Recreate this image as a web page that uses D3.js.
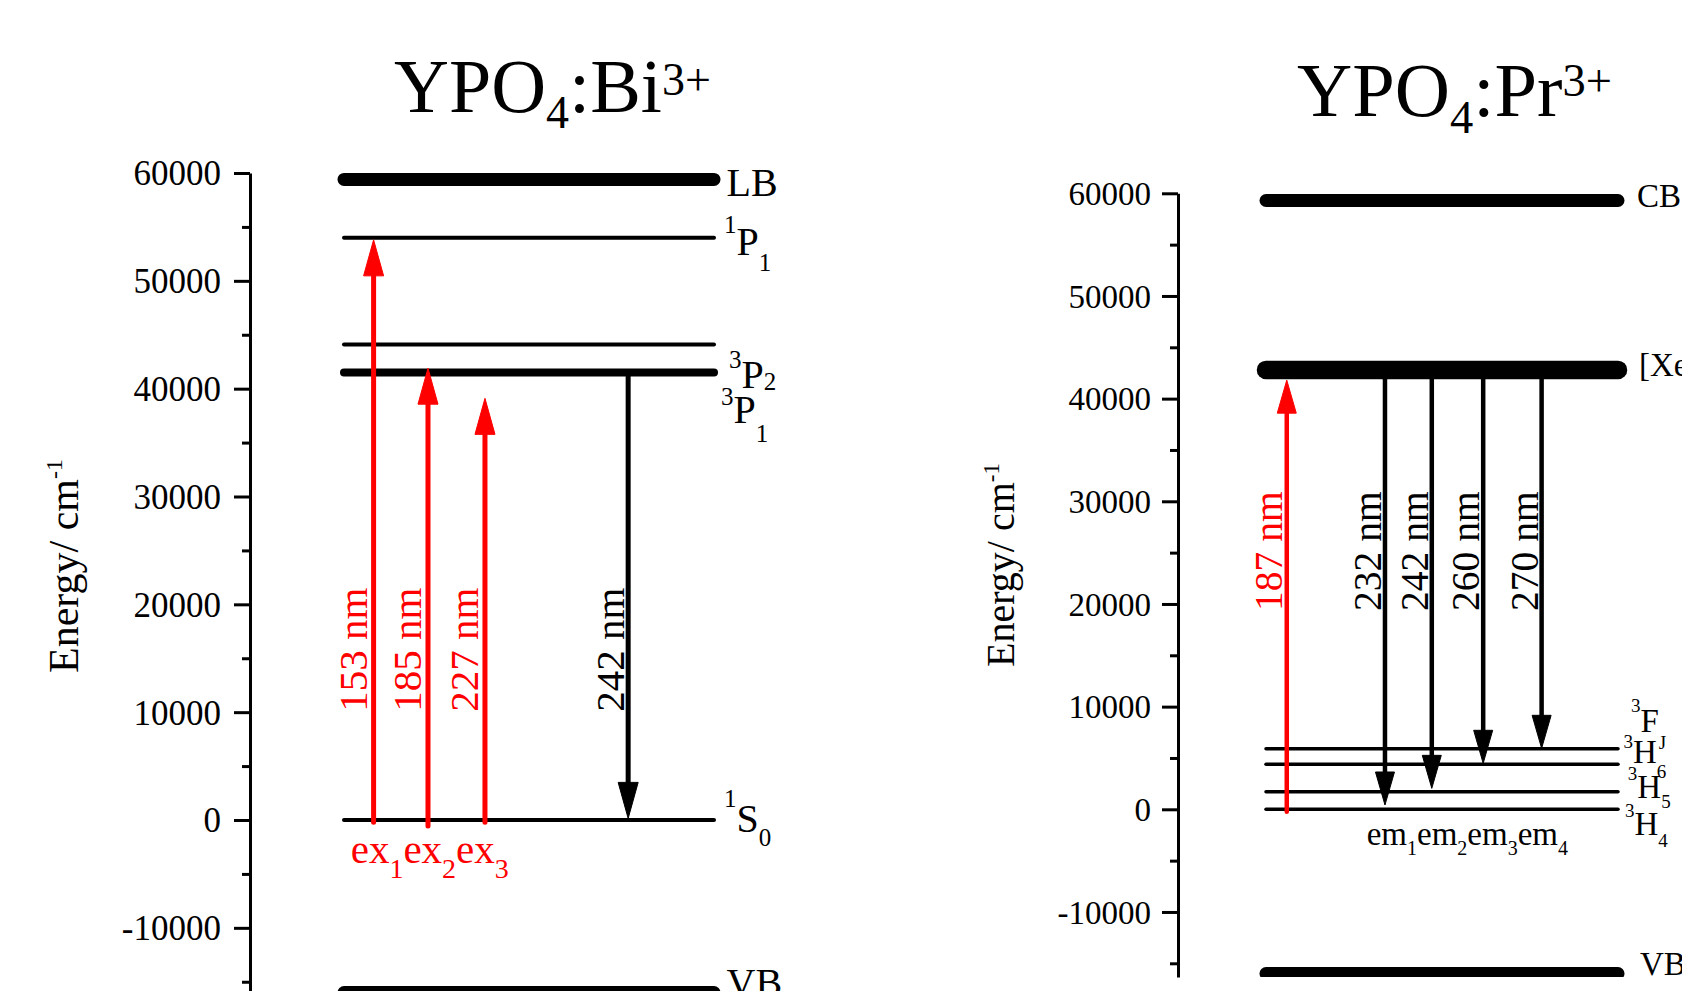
<!DOCTYPE html>
<html>
<head>
<meta charset="utf-8">
<script src="https://cdn.jsdelivr.net/npm/d3@7"></script>
<style>
    body { margin: 0; background: #fff; }
    svg { display: block; font-family: 'Liberation Serif', 'Times New Roman', serif; }
</style>
</head>
<body>
<svg id="chart" width="1682" height="991"></svg>
<script>
'use strict';

// energy axis (cm^-1)
const energyTicks = [-10000, 0, 10000, 20000, 30000, 40000, 50000, 60000];
const energyMinorTicks = [-15000, -5000, 5000, 15000, 25000, 35000, 45000, 55000];

// YPO4:Bi3+ levels and transitions
const biLevelNames = ['LB', '1P1', '3P2', '3P1', '1S0', 'VB'];
const biLevelEnergy = [59400, 54000, 44100, 41500, 0, -16000];
const biLines = ['153 nm', '185 nm', '227 nm', '242 nm'];
const biLineKind = ['ex', 'ex', 'ex', 'em'];
const biLineSlot = [8, 22.7, 38.1, 76.8];
const biLineFrom = [-200, -550, -200, 41500];
const biLineTo = [53800, 41900, 39100, 150];

// YPO4:Pr3+ levels and transitions
const prLevelNames = ['CB', '4f5d', '3FJ', '3H6', '3H5', '3H4', 'VB'];
const prLevelEnergy = [59300, 42800, 5900, 4400, 1700, 0, -16000];
const prLines = ['187 nm', '232 nm', '242 nm', '260 nm', '270 nm'];
const prLineKind = ['ex', 'em', 'em', 'em', 'em'];
const prLineSlot = [5.9, 33.8, 47.1, 61.7, 78.3];
const prLineFrom = [-230, 42800, 42800, 42800, 42800];
const prLineTo = [41800, 420, 2040, 4480, 5940];

const RED = '#ff0000';
const svg = d3.select('#chart');

function zipLevels(names, energy) {
    return names.map((n, i) => ({name: n, e: energy[i]}));
}

function zipLines(labels, kind, slot, from, to) {
    return labels.map((l, i) => ({label: l, kind: kind[i], slot: slot[i], from: from[i], to: to[i]}));
}

// text with optional superscript before and subscript after
function termText(sel, spec, big, small) {
    if (spec.sup) {
        sel.append('tspan').attr('font-size', small).attr('dy', spec.supDy).text(spec.sup);
        sel.append('tspan').attr('font-size', big).attr('dy', -spec.supDy).text(spec.main);
    } else {
        sel.append('tspan').attr('font-size', big).text(spec.main);
    }
    if (spec.sub) {
        sel.append('tspan').attr('font-size', small).attr('dy', spec.subDy).text(spec.sub);
    }
}

function drawPanel(p, levels, lines) {
    let k = (p.y0 - p.y60) / 60000;
    let yBottom = p.y0 + (-p.eMin) * k;

    let y = d3.scaleLinear().domain([p.eMin, 60000]).range([yBottom, p.y60]);
    let x = d3.scaleLinear().domain([0, 100]).range([p.x0, p.x1]);

    let g = svg.append('g').attr('class', p.id);

    // title
    let title = g.append('text')
        .attr('x', p.title.x)
        .attr('y', p.title.y)
        .attr('fill', '#000');
    title.append('tspan').attr('font-size', p.title.size).text('YPO');
    title.append('tspan').attr('font-size', p.title.small).attr('dy', p.title.subDy).text('4');
    title.append('tspan').attr('font-size', p.title.size).attr('dy', -p.title.subDy).text(':' + p.title.ion);
    title.append('tspan').attr('font-size', p.title.small).attr('dy', p.title.supDy).text('3+');

    // axis title
    let yTitle = g.append('text')
        .attr('transform', 'translate(' + p.yTitle.x + ',' + p.yTitle.y + ')rotate(-90)')
        .attr('fill', '#000');
    yTitle.append('tspan').attr('font-size', p.yTitle.size).text('Energy/ cm');
    yTitle.append('tspan').attr('font-size', p.yTitle.small).attr('dy', p.yTitle.supDy).text('-1');

    // axis
    let axis = d3.axisLeft(y)
        .tickValues(energyTicks)
        .tickFormat(d => String(d))
        .tickSize(p.tickLen)
        .tickSizeOuter(0)
        .tickPadding(p.tickPad);

    let ax = g.append('g')
        .attr('transform', 'translate(' + p.axisX + ',0)')
        .call(axis);
    ax.select('.domain').attr('stroke', '#000').attr('stroke-width', 3);
    ax.selectAll('.tick line').attr('stroke', '#000').attr('stroke-width', 3);
    ax.selectAll('.tick text')
        .attr('font-family', "'Liberation Serif', 'Times New Roman', serif")
        .attr('font-size', p.tickFont)
        .attr('fill', '#000')
        .attr('dy', '0.34em');

    let minor = g.append('g')
        .attr('transform', 'translate(' + p.axisX + ',0)')
        .call(d3.axisLeft(y).tickValues(energyMinorTicks).tickSize(p.tickLen / 2).tickFormat(''));
    minor.select('.domain').remove();
    minor.selectAll('.tick line').attr('stroke', '#000').attr('stroke-width', 3);

    // plot area clipped at the axis bottom
    g.append('clipPath').attr('id', p.id + '-clip')
        .append('rect')
        .attr('x', p.x0 - 40)
        .attr('y', 0)
        .attr('width', p.x1 - p.x0 + 80)
        .attr('height', yBottom);

    let plot = g.append('g').attr('clip-path', 'url(#' + p.id + '-clip)');

    plot.selectAll('line.level')
        .data(levels)
        .join('line')
        .attr('class', 'level')
        .attr('x1', x(0))
        .attr('x2', x(100))
        .attr('y1', d => y(d.e))
        .attr('y2', d => y(d.e))
        .attr('stroke', '#000')
        .attr('stroke-width', d => p.levelWidth[d.name])
        .attr('stroke-linecap', 'round');

    // level labels
    levels.forEach(function (d) {
        let spec = p.levelLabel[d.name];
        let t = g.append('text')
            .attr('x', x(100) + spec.dx)
            .attr('y', y(d.e) + spec.dy)
            .attr('fill', '#000');
        termText(t, spec, p.stateFont, p.stateSmall);
    });

    // transitions
    let arrows = plot.selectAll('g.arrow')
        .data(lines)
        .join('g')
        .attr('class', 'arrow');

    arrows.append('line')
        .attr('x1', d => x(d.slot))
        .attr('x2', d => x(d.slot))
        .attr('y1', d => y(d.from))
        .attr('y2', d => y(d.to) + (d.to > d.from ? 1 : -1) * p.headLen * 0.6)
        .attr('stroke', d => d.kind === 'ex' ? RED : '#000')
        .attr('stroke-width', p.arrowWidth)
        .attr('stroke-linecap', 'round');

    arrows.append('path')
        .attr('d', function (d) {
            let tx = x(d.slot);
            let ty = y(d.to);
            let by = ty + (d.to > d.from ? 1 : -1) * p.headLen;
            return 'M' + tx + ',' + ty + 'L' + (tx - p.headW / 2) + ',' + by +
                'L' + (tx + p.headW / 2) + ',' + by + 'Z';
        })
        .attr('fill', d => d.kind === 'ex' ? RED : '#000')
        .attr('stroke', d => d.kind === 'ex' ? RED : '#000')
        .attr('stroke-width', 1)
        .attr('stroke-linejoin', 'round');

    g.selectAll('text.wl')
        .data(lines)
        .join('text')
        .attr('class', 'wl')
        .attr('transform', d => 'translate(' + (x(d.slot) + (d.kind === 'ex' ? p.exOff : p.emOff)) + ',' +
            y(p.labelE) + ')rotate(-90)')
        .attr('text-anchor', 'middle')
        .attr('font-size', p.lineFont)
        .attr('fill', d => d.kind === 'ex' ? RED : '#000')
        .text(d => d.label);

    // ex1ex2ex3 / em1em2...
    let kind = p.kindLabel.kind;
    let n = lines.filter(d => d.kind === kind).length;
    let kl = g.append('text')
        .attr('x', x(0) + p.kindLabel.dx)
        .attr('y', y(0) + p.kindLabel.dy)
        .attr('fill', kind === 'ex' ? RED : '#000');
    for (let i = 1; i <= n; i++) {
        kl.append('tspan').attr('font-size', p.kindLabel.size).attr('dy', i === 1 ? 0 : -p.kindLabel.subDy).text(kind);
        kl.append('tspan').attr('font-size', p.kindLabel.small).attr('dy', p.kindLabel.subDy).text(i);
    }
}

drawPanel({
    id: 'bi',
    axisX: 250, y0: 820, y60: 173, eMin: -17000,
    x0: 344, x1: 714,
    tickLen: 16, tickPad: 13, tickFont: 35,
    title: {x: 394, y: 112, size: 76, small: 46, subDy: 16, supDy: -17, ion: 'Bi'},
    yTitle: {x: 78, y: 673, size: 42, small: 24, supDy: -16},
    levelWidth: {'LB': 13, '1P1': 4, '3P2': 4, '3P1': 8, '1S0': 4, 'VB': 13},
    stateFont: 40, stateSmall: 25,
    levelLabel: {
        'LB': {main: 'LB', dx: 12.5, dy: 17},
        '1P1': {sup: '1', main: 'P', sub: '1', dx: 10, dy: 17, supDy: -22, subDy: 16},
        '3P2': {sup: '3', main: 'P', sub: '2', dx: 15, dy: 44, supDy: -20, subDy: 2},
        '3P1': {sup: '3', main: 'P', sub: '1', dx: 7, dy: 51, supDy: -18, subDy: 19},
        '1S0': {sup: '1', main: 'S', sub: '0', dx: 10, dy: 12, supDy: -25, subDy: 14},
        'VB': {main: 'VB', dx: 12.5, dy: 3}
    },
    arrowWidth: 5, headLen: 36, headW: 20,
    lineFont: 41, labelE: 15800, exOff: -7, emOff: -4,
    kindLabel: {kind: 'ex', dx: 6.7, dy: 43.3, size: 41, small: 28, subDy: 15}
}, zipLevels(biLevelNames, biLevelEnergy), zipLines(biLines, biLineKind, biLineSlot, biLineFrom, biLineTo));

drawPanel({
    id: 'pr',
    axisX: 1178, y0: 809.3, y60: 193.3, eMin: -16330,
    x0: 1266, x1: 1618,
    tickLen: 16, tickPad: 11, tickFont: 33,
    title: {x: 1297, y: 116, size: 76.5, small: 46.5, subDy: 17, supDy: -20, ion: 'Pr'},
    yTitle: {x: 1014, y: 667, size: 40, small: 23, supDy: -15},
    levelWidth: {'CB': 13, '4f5d': 18.5, '3FJ': 3.5, '3H6': 3.5, '3H5': 3.5, '3H4': 3.5, 'VB': 13},
    stateFont: 33, stateSmall: 19,
    levelLabel: {
        'CB': {main: 'CB', dx: 19, dy: 6.5},
        '4f5d': {main: '[Xe]4f5d', dx: 21, dy: 6},
        '3FJ': {sup: '3', main: 'F', sub: 'J', dx: 13, dy: -17, supDy: -20, subDy: 17},
        '3H6': {sup: '3', main: 'H', sub: '6', dx: 5.5, dy: -1, supDy: -15, subDy: 15},
        '3H5': {sup: '3', main: 'H', sub: '5', dx: 9.8, dy: 6.5, supDy: -18, subDy: 10},
        '3H4': {sup: '3', main: 'H', sub: '4', dx: 7, dy: 25.7, supDy: -18, subDy: 12},
        'VB': {main: 'VB', dx: 22, dy: 1.5}
    },
    arrowWidth: 4.5, headLen: 33, headW: 19,
    lineFont: 39.5, labelE: 25150, exOff: -5, emOff: -4,
    kindLabel: {kind: 'em', dx: 100.7, dy: 35.7, size: 33, small: 20, subDy: 10}
}, zipLevels(prLevelNames, prLevelEnergy), zipLines(prLines, prLineKind, prLineSlot, prLineFrom, prLineTo));
</script>
</body>
</html>
